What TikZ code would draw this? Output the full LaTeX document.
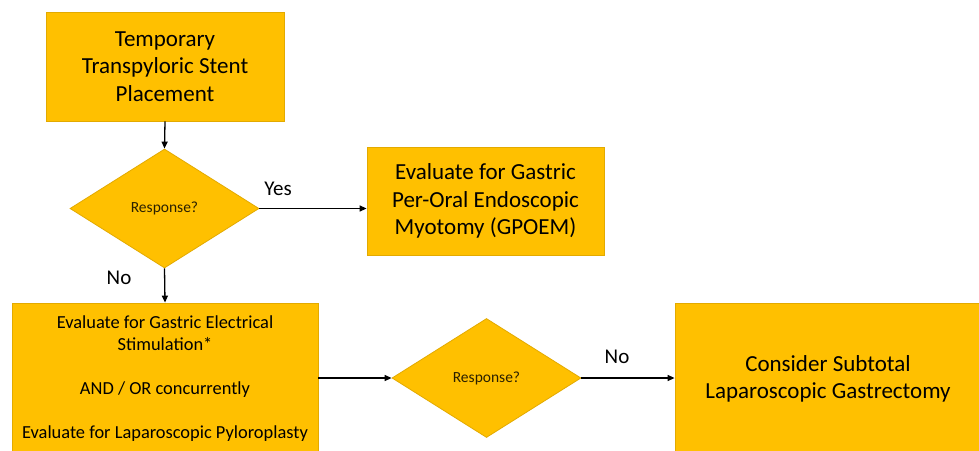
\documentclass[tikz,border=0pt]{standalone}
\usepackage{fontspec}
\setmainfont{Carlito}
\usetikzlibrary{shapes.geometric,arrows.meta,calc}
\definecolor{gold}{HTML}{FFC000}
\definecolor{goldline}{HTML}{E3AA00}
\definecolor{txtdark}{HTML}{2A2000}
\begin{document}
\begin{tikzpicture}[x=1pt,y=-1pt,
  boxnode/.style={draw=goldline,fill=gold,line width=0.8pt,rectangle,align=center,inner sep=0pt,text=black},
  decision/.style={draw=goldline,fill=gold,line width=0.8pt,diamond,inner sep=0pt,minimum width=189pt,minimum height=119pt,font=\fontsize{15.5}{18}\selectfont,text=txtdark},
  flow/.style={draw=black,line width=1.3pt,-{Triangle[length=7pt,width=6pt]}},
  lbl/.style={font=\fontsize{21}{25}\selectfont,text=black,inner sep=0pt}]
\useasboundingbox[fill=white] (0,0) rectangle (979,450);
\begin{scope}
\clip (0,0) rectangle (979,450);
\node[boxnode,minimum width=238pt,minimum height=109pt,font=\fontsize{23}{27.5}\selectfont] (b1) at (165,66.5) {Temporary\\Transpyloric Stent\\Placement};
\node[decision] (d1) at (164.5,208.5) {Response?};
\node[boxnode,minimum width=237pt,minimum height=108pt,font=\fontsize{23}{27.5}\selectfont] (b2) at (485.5,201) {Evaluate for Gastric\\Per-Oral Endoscopic\\Myotomy (GPOEM)};
\node[boxnode,minimum width=306pt,minimum height=152pt,font=\fontsize{18.4}{22}\selectfont] (b3) at (165,379) {Evaluate for Gastric Electrical\\Stimulation*\\[22pt]AND / OR concurrently\\[22pt]Evaluate for Laparoscopic Pyloroplasty};
\node[decision] (d2) at (486.5,378) {Response?};
\node[boxnode,minimum width=306pt,minimum height=152pt,font=\fontsize{23}{27.5}\selectfont] (b4) at (828,379) {Consider Subtotal\\Laparoscopic Gastrectomy};
\end{scope}
\draw[flow] (b1.south) -- (d1.north);
\draw[flow] (d1.east) -- (d1.east -| b2.west);
\draw[flow] (d1.south) -- (b3.north);
\draw[flow] (d2.west -| b3.east) -- (d2.west);
\draw[flow] (d2.east) -- (d2.east -| b4.west);
\node[lbl] (yes) at (278,189) {Yes};
\node[lbl] (no1) at (119,278) {No};
\node[lbl] (no2) at (617,357) {No};
\end{tikzpicture}
\end{document}
